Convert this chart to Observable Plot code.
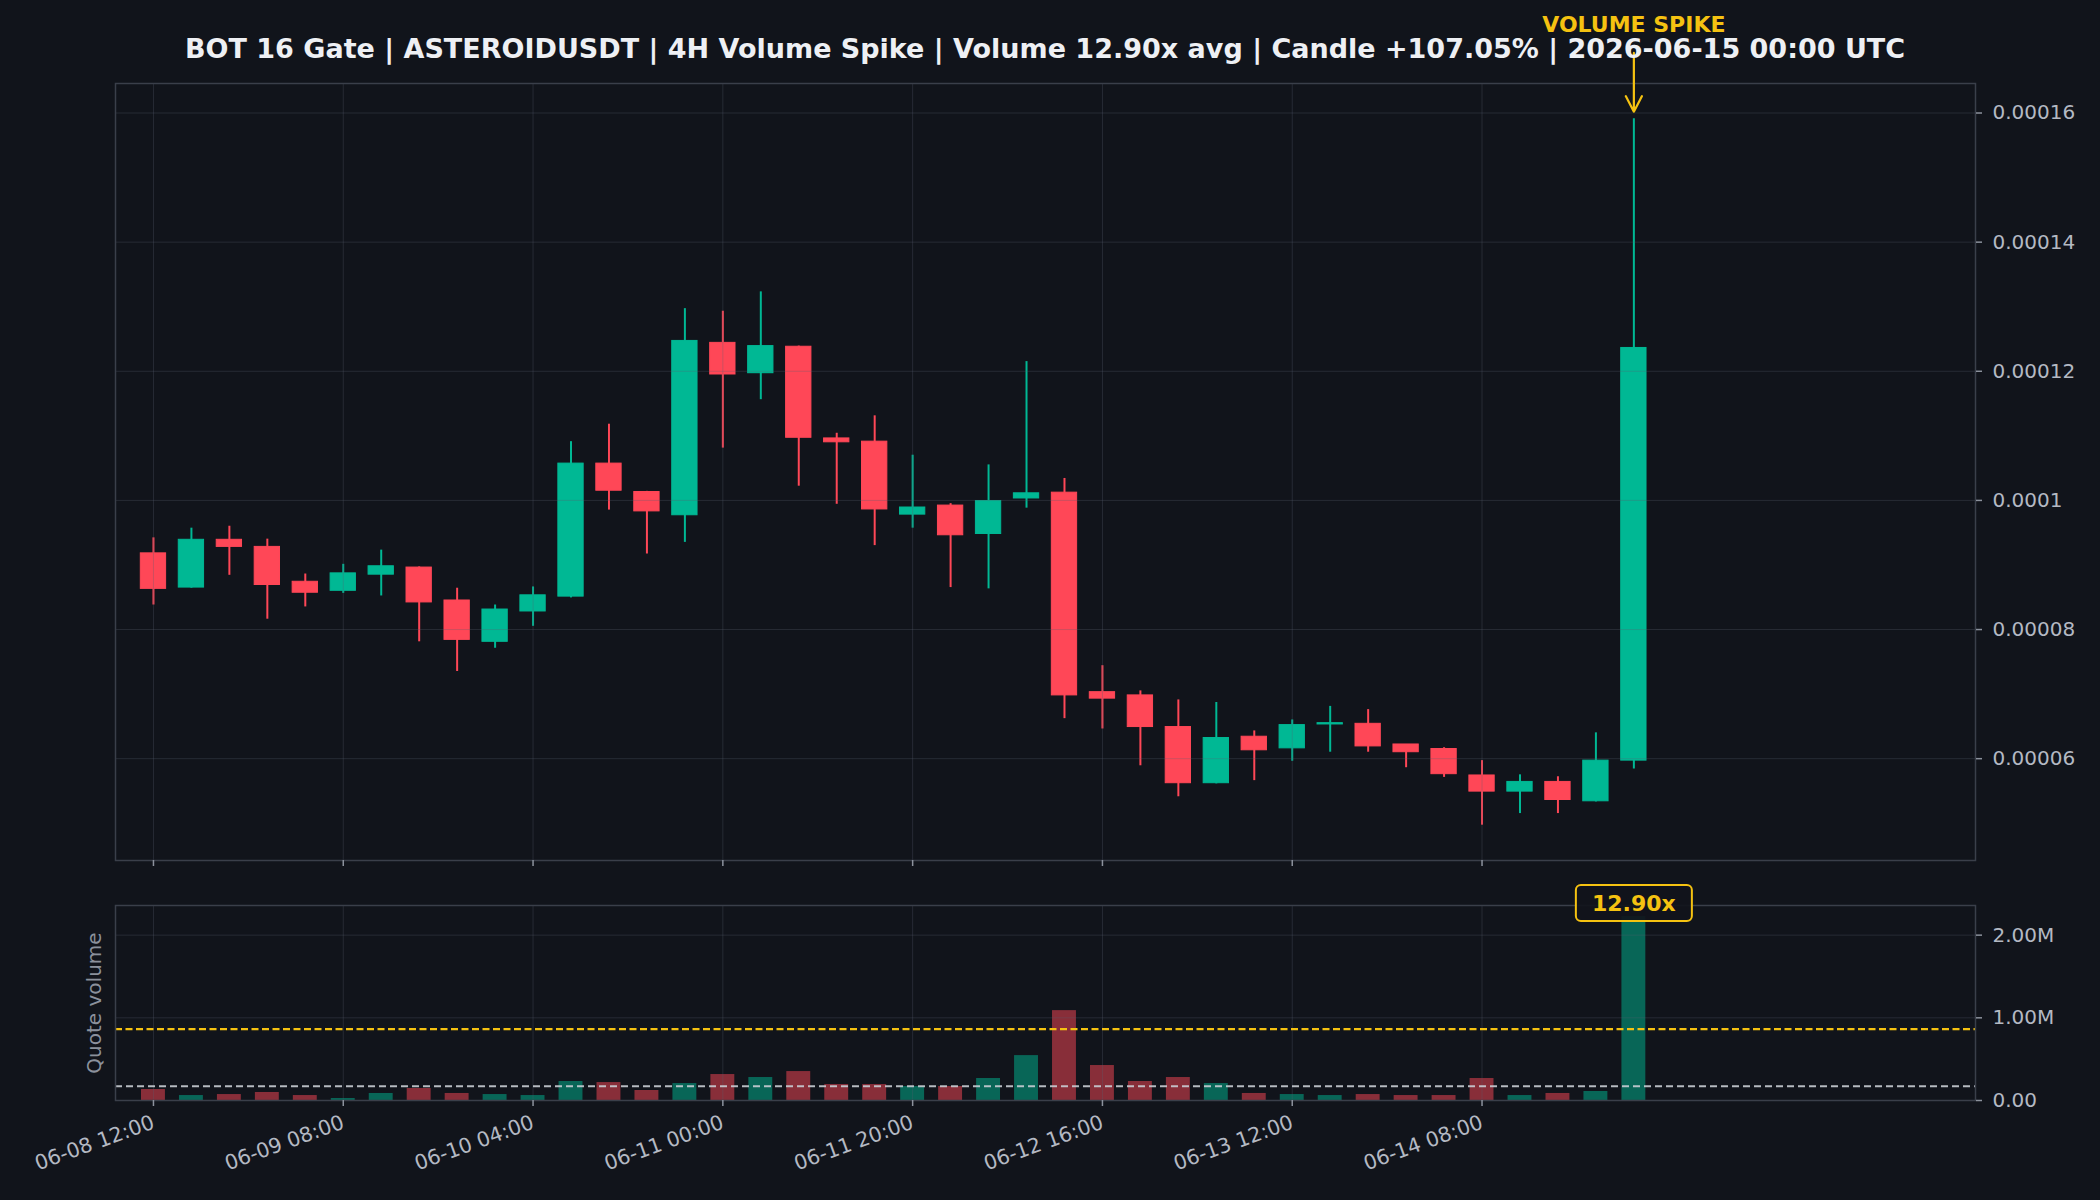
<!DOCTYPE html>
<html>
<head>
<meta charset="utf-8">
<script src="https://cdn.jsdelivr.net/npm/d3@7"></script>
<script src="https://cdn.jsdelivr.net/npm/@observablehq/plot@0.6"></script>
<style>
  html, body { margin: 0; padding: 0; background: #11141b; }
  #fig { position: relative; width: 2100px; height: 1200px; background: #11141b; overflow: hidden; font-family: "DejaVu Sans", sans-serif; }
  #title { position: absolute; left: 115px; width: 1860px; top: 35px; text-align: center; font-size: 27px; font-weight: bold; color: #eef0f4; line-height: 27px; white-space: nowrap; }
  #main { position: absolute; left: 0; top: 0; }
  #vol { position: absolute; left: 0; top: 880px; }
</style>
</head>
<body>
<div id="fig">
  <div id="main"></div>
  <div id="vol"></div>
  <div id="title"></div>
</div>
<script>
// ---------------- data ----------------
const titleText = "BOT 16 Gate | ASTEROIDUSDT | 4H Volume Spike | Volume 12.90x avg | Candle +107.05% | 2026-06-15 00:00 UTC";

const times = [
  "2026-06-08T12:00Z","2026-06-08T16:00Z","2026-06-08T20:00Z",
  "2026-06-09T00:00Z","2026-06-09T04:00Z","2026-06-09T08:00Z","2026-06-09T12:00Z","2026-06-09T16:00Z","2026-06-09T20:00Z",
  "2026-06-10T00:00Z","2026-06-10T04:00Z","2026-06-10T08:00Z","2026-06-10T12:00Z","2026-06-10T16:00Z","2026-06-10T20:00Z",
  "2026-06-11T00:00Z","2026-06-11T04:00Z","2026-06-11T08:00Z","2026-06-11T12:00Z","2026-06-11T16:00Z","2026-06-11T20:00Z",
  "2026-06-12T00:00Z","2026-06-12T04:00Z","2026-06-12T08:00Z","2026-06-12T12:00Z","2026-06-12T16:00Z","2026-06-12T20:00Z",
  "2026-06-13T00:00Z","2026-06-13T04:00Z","2026-06-13T08:00Z","2026-06-13T12:00Z","2026-06-13T16:00Z","2026-06-13T20:00Z",
  "2026-06-14T00:00Z","2026-06-14T04:00Z","2026-06-14T08:00Z","2026-06-14T12:00Z","2026-06-14T16:00Z","2026-06-14T20:00Z",
  "2026-06-15T00:00Z"
];

const opens  = [9.18e-5, 8.65e-5, 9.39e-5, 9.28e-5, 8.74e-5, 8.60e-5, 8.85e-5, 8.96e-5, 8.45e-5, 7.81e-5,
                8.28e-5, 8.51e-5, 10.57e-5, 10.13e-5, 9.77e-5, 12.44e-5, 11.97e-5, 12.38e-5, 10.96e-5, 10.91e-5,
                9.78e-5, 9.92e-5, 9.48e-5, 10.03e-5, 10.12e-5, 7.03e-5, 6.98e-5, 6.49e-5, 5.62e-5, 6.34e-5,
                6.16e-5, 6.53e-5, 6.54e-5, 6.22e-5, 6.15e-5, 5.74e-5, 5.49e-5, 5.64e-5, 5.34e-5, 5.970e-5];
const highs  = [9.42e-5, 9.57e-5, 9.60e-5, 9.40e-5, 8.86e-5, 9.01e-5, 9.23e-5, 8.97e-5, 8.64e-5, 8.38e-5,
                8.66e-5, 10.91e-5, 11.18e-5, 10.14e-5, 12.97e-5, 12.93e-5, 13.23e-5, 12.39e-5, 11.04e-5, 11.31e-5,
                10.70e-5, 9.95e-5, 10.55e-5, 12.15e-5, 10.34e-5, 7.44e-5, 7.05e-5, 6.91e-5, 6.87e-5, 6.43e-5,
                6.60e-5, 6.81e-5, 6.76e-5, 6.22e-5, 6.17e-5, 5.97e-5, 5.75e-5, 5.72e-5, 6.40e-5, 15.91e-5];
const lows   = [8.38e-5, 8.64e-5, 8.84e-5, 8.16e-5, 8.35e-5, 8.56e-5, 8.52e-5, 7.81e-5, 7.35e-5, 7.71e-5,
                8.05e-5, 8.49e-5, 9.85e-5, 9.17e-5, 9.35e-5, 10.81e-5, 11.56e-5, 10.22e-5, 9.94e-5, 9.30e-5,
                9.57e-5, 8.65e-5, 8.63e-5, 9.88e-5, 6.62e-5, 6.46e-5, 5.89e-5, 5.41e-5, 5.61e-5, 5.66e-5,
                5.96e-5, 6.10e-5, 6.10e-5, 5.86e-5, 5.71e-5, 4.97e-5, 5.15e-5, 5.15e-5, 5.33e-5, 5.84e-5];
const closes = [8.63e-5, 9.39e-5, 9.28e-5, 8.69e-5, 8.57e-5, 8.87e-5, 8.98e-5, 8.42e-5, 7.84e-5, 8.31e-5,
                8.53e-5, 10.57e-5, 10.15e-5, 9.83e-5, 12.47e-5, 11.95e-5, 12.39e-5, 10.97e-5, 10.90e-5, 9.86e-5,
                9.89e-5, 9.46e-5, 9.99e-5, 10.11e-5, 6.98e-5, 6.93e-5, 6.49e-5, 5.62e-5, 6.32e-5, 6.13e-5,
                6.52e-5, 6.55e-5, 6.19e-5, 6.10e-5, 5.76e-5, 5.49e-5, 5.64e-5, 5.36e-5, 5.97e-5, 12.361e-5];
const quoteVolumes = [133e3, 60e3, 72e3, 97e3, 60e3, 24e3, 85e3, 145e3, 85e3, 72e3,
                      60e3, 230e3, 217e3, 121e3, 205e3, 314e3, 278e3, 350e3, 193e3, 193e3,
                      169e3, 169e3, 266e3, 543e3, 1087e3, 423e3, 230e3, 278e3, 205e3, 85e3,
                      72e3, 60e3, 72e3, 60e3, 60e3, 266e3, 60e3, 85e3, 109e3, 2225e3];

const avgVolume = 172.5e3;        // white dashed line
const spikeThreshold = 862.5e3;   // yellow dashed line
const spikeRatioLabel = "12.90x";
const spikeLabel = "VOLUME SPIKE";
const spikeAnnot = { textY: 1.737e-4, arrowFrom: 1.693e-4, arrowTo: 1.602e-4 };

const xTickLabels = ["2026-06-08T12:00Z","2026-06-09T08:00Z","2026-06-10T04:00Z","2026-06-11T00:00Z",
                     "2026-06-11T20:00Z","2026-06-12T16:00Z","2026-06-13T12:00Z","2026-06-14T08:00Z"];
const yPriceTicks = [0.00006, 0.00008, 0.0001, 0.00012, 0.00014, 0.00016];
const yVolTicks = [0, 1e6, 2e6];

// ---------------- style ----------------
const GREEN = "#00b894", RED = "#ff4757", YELLOW = "#f5c211";
const BG = "#11141b", FRAME = "#3a3f4a", GRID = "#5a6070";
const TICKTXT = "#b4b9c3", TICKLINE = "#8c929d";

const H4 = 4 * 3600 * 1000;
const candles = times.map((t, i) => ({
  t: new Date(t), o: opens[i], h: highs[i], l: lows[i], c: closes[i], v: quoteVolumes[i],
  col: closes[i] >= opens[i] ? GREEN : RED
}));
const spike = candles[candles.length - 1];
const xTicks = xTickLabels.map(d => new Date(d));
const xDomain = [new Date(+candles[0].t - H4), new Date(+spike.t + 9 * H4)];
const pMin = d3.min(lows), pMax = d3.max(highs), pPad = (pMax - pMin) * 0.05;
const yDomain = [pMin - pPad, pMax + pPad];
const volTop = d3.max(quoteVolumes) * 1.06;
const bodyHalf = H4 / 3, volHalf = H4 * 0.315;

const fmtPrice = d => String(+d.toFixed(5));
const fmtVol = d => d === 0 ? "0.00" : (d / 1e6).toFixed(2) + "M";
const fmtTime = d3.utcFormat("%m-%d %H:%M");

const baseStyle = { background: "transparent", color: TICKTXT, fontFamily: "DejaVu Sans, sans-serif", fontSize: "20px", overflow: "visible" };

// ---------------- main candlestick panel ----------------
const main = Plot.plot({
  width: 2100, height: 880,
  marginLeft: 115, marginRight: 125, marginTop: 83, marginBottom: 20,
  style: baseStyle,
  x: { type: "utc", domain: xDomain, axis: null },
  y: { domain: yDomain, axis: null },
  color: { type: "identity" },
  marks: [
    Plot.ruleX(candles, { x: "t", y1: "l", y2: "h", stroke: "col", strokeWidth: 2 }),
    Plot.rect(candles, {
      x1: d => new Date(+d.t - bodyHalf), x2: d => new Date(+d.t + bodyHalf),
      y1: d => Math.min(d.o, d.c), y2: d => Math.max(d.o, d.c),
      fill: "col", stroke: "col", strokeWidth: 1
    }),
    Plot.gridX(xTicks, { stroke: GRID, strokeOpacity: 0.3, strokeWidth: 1 }),
    Plot.gridY(yPriceTicks, { stroke: GRID, strokeOpacity: 0.3, strokeWidth: 1 }),
    Plot.frame({ stroke: FRAME, strokeWidth: 1.5 }),
    Plot.axisX(xTicks, { anchor: "bottom", tickSize: 6, stroke: TICKLINE, fill: "none", label: null, strokeWidth: 1.5 }),
    Plot.axisY(yPriceTicks, { anchor: "right", tickSize: 6, tickPadding: 11, tickFormat: fmtPrice, stroke: TICKLINE, fill: TICKTXT, fontSize: 20, label: null, strokeWidth: 1.5 }),
    Plot.arrow([spike], { x1: "t", x2: "t", y1: () => spikeAnnot.arrowFrom, y2: () => spikeAnnot.arrowTo,
      stroke: YELLOW, strokeWidth: 2.2, headLength: 12, headAngle: 55 }),
    Plot.text([spike], { x: "t", y: () => spikeAnnot.textY, text: () => spikeLabel, fill: YELLOW,
      fontWeight: "bold", fontSize: 22, lineAnchor: "middle" })
  ]
});
document.getElementById("main").appendChild(main);

// ---------------- volume panel ----------------
const vol = Plot.plot({
  width: 2100, height: 320,
  marginLeft: 115, marginRight: 125, marginTop: 25, marginBottom: 100,
  style: baseStyle,
  x: { type: "utc", domain: xDomain, axis: null },
  y: { domain: [0, volTop], axis: null },
  color: { type: "identity" },
  marks: [
    Plot.rect(candles, {
      x1: d => new Date(+d.t - volHalf), x2: d => new Date(+d.t + volHalf),
      y1: 0, y2: "v", fill: "col", fillOpacity: 0.5
    }),
    Plot.gridX(xTicks, { stroke: GRID, strokeOpacity: 0.3, strokeWidth: 1 }),
    Plot.gridY(yVolTicks, { stroke: GRID, strokeOpacity: 0.3, strokeWidth: 1 }),
    Plot.ruleY([avgVolume], { stroke: "#c9cdd4", strokeOpacity: 0.9, strokeWidth: 1.8, strokeDasharray: "7,4" }),
    Plot.ruleY([spikeThreshold], { stroke: YELLOW, strokeWidth: 2.2, strokeDasharray: "7,3.5" }),
    Plot.frame({ stroke: FRAME, strokeWidth: 1.5 }),
    Plot.axisX(xTicks, { anchor: "bottom", tickSize: 6, tickPadding: 15, tickFormat: fmtTime, tickRotate: -20,
      stroke: TICKLINE, fill: TICKTXT, fontSize: 20.5, label: null, strokeWidth: 1.5 }),
    Plot.axisY(yVolTicks, { anchor: "right", tickSize: 6, tickPadding: 11, tickFormat: fmtVol, stroke: TICKLINE, fill: TICKTXT, fontSize: 20, label: null, strokeWidth: 1.5 }),
    Plot.text(["Quote volume"], { frameAnchor: "left", dx: -21, rotate: -90, textAnchor: "middle", fill: "#8b919c", fontSize: 20, lineAnchor: "middle" }),
    Plot.text([spike], { x: "t", frameAnchor: "top", dy: -2, text: () => spikeRatioLabel, fill: YELLOW,
      fontWeight: "bold", fontSize: 22, lineAnchor: "middle" })
  ]
});
document.getElementById("vol").appendChild(vol);

// badge box behind the ratio label
(function () {
  const t = Array.from(vol.querySelectorAll("text")).find(e => e.textContent === spikeRatioLabel);
  if (!t) return;
  const bb = t.getBBox();
  const pt = vol.createSVGPoint(); pt.x = bb.x + bb.width / 2; pt.y = bb.y + bb.height / 2;
  const inv = vol.getScreenCTM().inverse();
  const p = pt.matrixTransform(t.getScreenCTM()).matrixTransform(inv);
  const w = 116, h = 36;
  const r = document.createElementNS("http://www.w3.org/2000/svg", "rect");
  r.setAttribute("x", p.x - w / 2); r.setAttribute("y", p.y - h / 2);
  r.setAttribute("width", w); r.setAttribute("height", h);
  r.setAttribute("rx", 5); r.setAttribute("fill", BG); r.setAttribute("fill-opacity", 0.92);
  r.setAttribute("stroke", YELLOW); r.setAttribute("stroke-width", 2);
  const g = t.closest("g");
  g.parentNode.insertBefore(r, g);
})();

document.getElementById("title").textContent = titleText;
</script>
</body>
</html>
